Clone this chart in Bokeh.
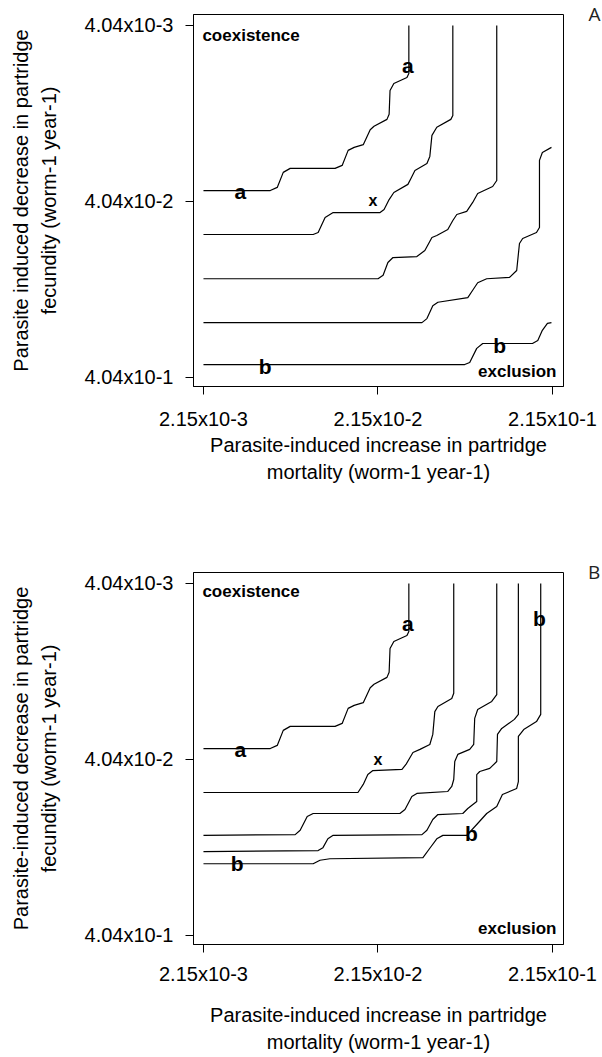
from bokeh.plotting import figure
from bokeh.models import Range1d, FixedTicker, CustomJSTickFormatter, Label
from bokeh.layouts import column
from bokeh.embed import file_html
from bokeh.resources import INLINE
from bokeh.core.properties import value

# ---------------- axis ticks ----------------
x_ticks = [0.00215, 0.0215, 0.215]
x_tick_labels = ["2.15x10-3", "2.15x10-2", "2.15x10-1"]
y_ticks = [0.00404, 0.0404, 0.404]
y_tick_labels = ["4.04x10-3", "4.04x10-2", "4.04x10-1"]

x_title = "Parasite-induced increase in partridge\nmortality (worm-1 year-1)"
y_title_a = "Parasite induced decrease in partridge\nfecundity (worm-1 year-1)"
y_title_b = "Parasite-induced decrease in partridge\nfecundity (worm-1 year-1)"

# ---------------- panel A boundaries (mortality, fecundity) ----------------
a1_mort = [0.00215, 0.00519, 0.00569, 0.00616, 0.00675, 0.0122, 0.0134, 0.0145, 0.0157, 0.0177,
           0.0194, 0.0204, 0.0242, 0.0249, 0.0252, 0.0265, 0.0315, 0.0323, 0.0323]
a1_fec = [0.0350, 0.0350, 0.0336, 0.0276, 0.0262, 0.0262, 0.0252, 0.0207, 0.0199, 0.0192,
          0.0158, 0.0151, 0.0138, 0.0129, 0.00946, 0.00863, 0.00798, 0.00757, 0.00404]

a2_mort = [0.00215, 0.00914, 0.00976, 0.0107, 0.0119, 0.0221, 0.0233, 0.0249, 0.0265, 0.0319,
           0.0332, 0.0350, 0.0410, 0.0426, 0.0438, 0.0467, 0.0562, 0.0577, 0.0577]
a2_fec = [0.0622, 0.0622, 0.0606, 0.0498, 0.0467, 0.0467, 0.0449, 0.0394, 0.0359, 0.0323,
          0.0299, 0.0269, 0.0246, 0.0224, 0.0170, 0.0153, 0.0138, 0.0131, 0.00404]

a3_mort = [0.00215, 0.0215, 0.0230, 0.0245, 0.0262, 0.0359, 0.0399, 0.0438, 0.0467, 0.0540,
           0.0577, 0.0608, 0.0693, 0.0750, 0.0801, 0.0976, 0.103, 0.103]
a3_fec = [0.111, 0.111, 0.106, 0.0897, 0.0841, 0.0830, 0.0767, 0.0647, 0.0630, 0.0583,
          0.0518, 0.0479, 0.0460, 0.0409, 0.0364, 0.0332, 0.0307, 0.00404]

a4_mort = [0.00215, 0.0384, 0.0410, 0.0443, 0.0474, 0.0703, 0.0750, 0.0801, 0.0902, 0.122,
           0.134, 0.139, 0.145, 0.174, 0.181, 0.181, 0.188, 0.212]
a4_fec = [0.197, 0.197, 0.187, 0.158, 0.151, 0.142, 0.129, 0.117, 0.111, 0.109,
          0.0996, 0.0700, 0.0656, 0.0606, 0.0568, 0.0236, 0.0213, 0.0199]

a5_mort = [0.00215, 0.0675, 0.0721, 0.0791, 0.0856, 0.165, 0.177, 0.188, 0.201, 0.212]
a5_fec = [0.341, 0.341, 0.332, 0.276, 0.259, 0.259, 0.249, 0.218, 0.199, 0.197]

# ---------------- panel B boundaries ----------------
b1_mort = [0.00215, 0.00519, 0.00569, 0.00616, 0.00675, 0.0122, 0.0134, 0.0145, 0.0157, 0.0177,
           0.0194, 0.0204, 0.0242, 0.0249, 0.0252, 0.0265, 0.0315, 0.0323, 0.0323]
b1_fec = [0.0350, 0.0350, 0.0336, 0.0276, 0.0262, 0.0262, 0.0252, 0.0207, 0.0199, 0.0192,
          0.0158, 0.0151, 0.0138, 0.0129, 0.00946, 0.00863, 0.00798, 0.00757, 0.00404]

b2_mort = [0.00215, 0.0165, 0.0177, 0.0188, 0.0201, 0.0295, 0.0311, 0.0341, 0.0374, 0.0426,
           0.0443, 0.0455, 0.0474, 0.0569, 0.0584, 0.0584]
b2_fec = [0.0622, 0.0622, 0.0560, 0.0492, 0.0467, 0.0460, 0.0431, 0.0369, 0.0354, 0.0332,
          0.0291, 0.0216, 0.0202, 0.0182, 0.0170, 0.00404]

b3_mort = [0.00215, 0.00721, 0.00770, 0.00845, 0.00914, 0.0287, 0.0307, 0.0336, 0.0359, 0.0540,
           0.0569, 0.0584, 0.0592, 0.0616, 0.0721, 0.0760, 0.0770, 0.0801, 0.0964, 0.103, 0.103]
b3_fec = [0.109, 0.108, 0.102, 0.0852, 0.0819, 0.0819, 0.0777, 0.0656, 0.0630, 0.0614,
          0.0575, 0.0525, 0.0415, 0.0378, 0.0354, 0.0332, 0.0236, 0.0210, 0.0189, 0.0173, 0.00404]

b4_mort = [0.00215, 0.00976, 0.0104, 0.0111, 0.0119, 0.0384, 0.0410, 0.0443, 0.0474, 0.0658,
           0.0703, 0.0791, 0.0791, 0.0823, 0.0939, 0.103, 0.104, 0.110, 0.130, 0.137, 0.137]
b4_fec = [0.135, 0.133, 0.128, 0.114, 0.109, 0.108, 0.102, 0.0886, 0.0830, 0.0819,
          0.0767, 0.0700, 0.0492, 0.0473, 0.0454, 0.0415, 0.0291, 0.0269, 0.0239, 0.0224, 0.00404]

b5_mort = [0.00215, 0.00914, 0.0100, 0.0114, 0.0389, 0.0426, 0.0467, 0.0506, 0.0693, 0.0791,
           0.0902, 0.103, 0.111, 0.134, 0.137, 0.137, 0.147, 0.174, 0.184, 0.184]
b5_fec = [0.158, 0.158, 0.151, 0.148, 0.146, 0.129, 0.114, 0.109, 0.109, 0.0946,
          0.0819, 0.0747, 0.0639, 0.0590, 0.0539, 0.0299, 0.0273, 0.0246, 0.0224, 0.00404]

# ---------------- curve letters ----------------
a_letters = ["a", "a", "b", "b"]
a_letters_mort = [0.0319, 0.0035, 0.00486, 0.107]
a_letters_fec = [0.00682, 0.0354, 0.350, 0.266]
a_x_mort = [0.0201]
a_x_fec = [0.0399]

b_letters = ["a", "a", "b", "b", "b"]
b_letters_mort = [0.0319, 0.0035, 0.181, 0.00335, 0.0738]
b_letters_fec = [0.00682, 0.0354, 0.00636, 0.157, 0.106]
b_x_mort = [0.0215]
b_x_fec = [0.0406]

region_text = ["coexistence", "exclusion"]
a_region_mort = [0.00212, 0.2266]
a_region_fec = [0.0046, 0.3735]
b_region_mort = [0.00212, 0.2266]
b_region_fec = [0.0045, 0.3672]

FONT = "Liberation Sans"

TICK_JS = """
let best = 0, bd = Infinity;
for (let i = 0; i < tick_vals.length; i++) {
  const d = Math.abs(Math.log(tick) - Math.log(tick_vals[i]));
  if (d < bd) { bd = d; best = i; }
}
return tick_names[best];
"""


def make_panel(curves, ytitle, letters, lm, lf, xm, xf, rm, rf, panel_letter,
               height, top, bottom, xlab_standoff, xtitle_standoff):
    p = figure(width=602, height=height, x_axis_type="log", y_axis_type="log",
               x_range=Range1d(0.001885, 0.2485), y_range=Range1d(0.4545, 0.003499),
               output_backend="svg", toolbar_location=None,
               min_border_left=193, min_border_right=39, min_border_top=top,
               min_border_bottom=bottom)
    p.grid.visible = False
    p.outline_line_color = "black"
    p.outline_line_width = 1
    p.background_fill_color = "white"
    p.border_fill_color = "white"

    for ax, ticks, labels in ((p.xaxis[0], x_ticks, x_tick_labels),
                              (p.yaxis[0], y_ticks, y_tick_labels)):
        ax.ticker = FixedTicker(ticks=ticks, minor_ticks=[])
        ax.formatter = CustomJSTickFormatter(args=dict(tick_vals=ticks, tick_names=labels),
                                             code=TICK_JS)
        ax.major_tick_out = 8
        ax.major_tick_in = 0
        ax.minor_tick_out = 0
        ax.minor_tick_in = 0
        ax.axis_line_color = "black"
        ax.major_tick_line_color = "black"
        ax.major_label_text_font = FONT
        ax.major_label_text_font_size = "20px"
        ax.major_label_text_color = "black"
        ax.axis_label_text_font = FONT
        ax.axis_label_text_font_size = "20px"
        ax.axis_label_text_font_style = "normal"
        ax.axis_label_text_color = "black"
        ax.axis_label_text_line_height = 1.25

    p.xaxis.axis_label = x_title
    p.xaxis.major_label_standoff = xlab_standoff
    p.xaxis.axis_label_standoff = xtitle_standoff
    p.yaxis.axis_label = ytitle
    p.yaxis.major_label_standoff = 12
    p.yaxis.axis_label_standoff = 22

    for mx, fy in curves:
        p.line(mx, fy, line_color="black", line_width=1.2, line_join="round")

    p.text(lm, lf, text=letters, text_font=value(FONT), text_font_style="bold",
           text_font_size="21px", text_align="center", text_baseline="middle", text_color="black")
    p.text(xm, xf, text=["x"], text_font=value(FONT), text_font_style="bold",
           text_font_size="16px", text_align="center", text_baseline="middle", text_color="black")
    p.text(rm[:1], rf[:1], text=region_text[:1], text_font=value(FONT), text_font_style="bold",
           text_font_size="17px", text_align="left", text_baseline="middle", text_color="black")
    p.text(rm[1:], rf[1:], text=region_text[1:], text_font=value(FONT), text_font_style="bold",
           text_font_size="17px", text_align="right", text_baseline="middle", text_color="black")

    # panel letter lives in the right border panel so that it is not clipped to the frame
    p.add_layout(Label(x=0.4043, y=0.003476, text=panel_letter, text_font="Open Sans",
                       text_font_size="19px", text_align="right", text_baseline="middle",
                       text_color="#222222"), "right")
    return p


pA = make_panel([(a1_mort, a1_fec), (a2_mort, a2_fec), (a3_mort, a3_fec),
                 (a4_mort, a4_fec), (a5_mort, a5_fec)],
                y_title_a, a_letters, a_letters_mort, a_letters_fec, a_x_mort, a_x_fec,
                a_region_mort, a_region_fec, "A", 558, 14, 172, 13, 1)
pB = make_panel([(b1_mort, b1_fec), (b2_mort, b2_fec), (b3_mort, b3_fec),
                 (b4_mort, b4_fec), (b5_mort, b5_fec)],
                y_title_b, b_letters, b_letters_mort, b_letters_fec, b_x_mort, b_x_fec,
                b_region_mort, b_region_fec, "B", 499, 14, 113, 10, 16)

layout = column(pA, pB, spacing=0)
open("out.html", "w").write(file_html(layout, INLINE))
